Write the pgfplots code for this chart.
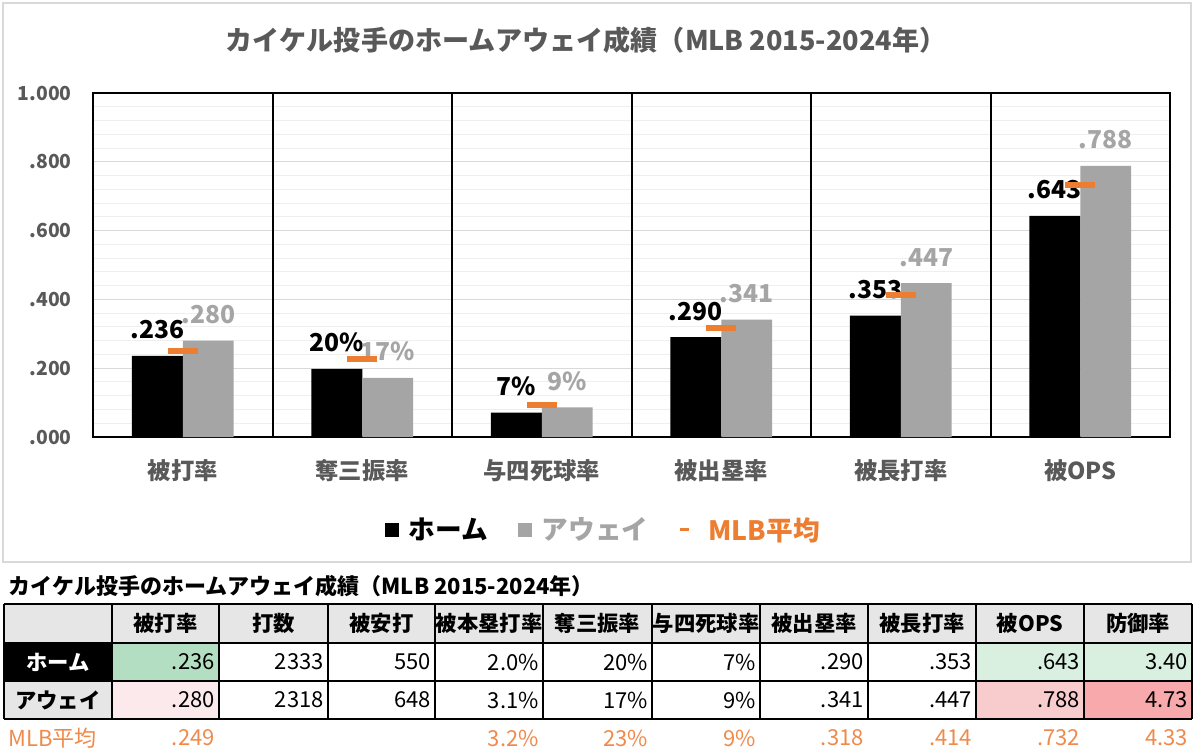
\documentclass[border=0pt]{standalone}
\usepackage{pgfplots}
\pgfplotsset{compat=1.18}
\usepackage{fontspec}
\setmainfont{Noto Sans CJK JP}
\definecolor{txtgrey}{HTML}{595959}
\definecolor{awaygrey}{HTML}{A5A5A5}
\definecolor{mlbor}{HTML}{ED7D31}
\definecolor{mlbtxt}{HTML}{F08A4B}
\definecolor{hdr}{HTML}{E7E6E6}
\definecolor{gmaj}{HTML}{D9D9D9}
\definecolor{gmin}{HTML}{EFEFEF}
\definecolor{g1}{HTML}{B3DEC1}
\definecolor{g2}{HTML}{D9EFDF}
\definecolor{p1}{HTML}{FCE9EC}
\definecolor{p2}{HTML}{F8CBCD}
\definecolor{p3}{HTML}{F8A9AB}
\newcommand{\fs}[1]{\fontsize{#1}{#1}\selectfont}
\begin{document}
\begin{tikzpicture}
\begin{scope}[x=0.75pt,y=-0.75pt]
\path[use as bounding box, fill=white] (0,0) rectangle (1195,749);
\draw[gmaj, line width=1.5pt] (3,3) rectangle (1191,562);
\node[text=txtgrey, font=\bfseries\fs{20.3pt}] at (586,40) {カイケル投手のホームアウェイ成績（MLB 2015-2024年）};
% table
\node[anchor=west, font=\bfseries\fs{16.5pt}, inner sep=0pt] at (8,586) {カイケル投手のホームアウェイ成績（MLB 2015-2024年）};
\fill[hdr] (4,604) rectangle (1192,643);
\fill[black] (4,643) rectangle (112,681);
\fill[hdr] (4,681) rectangle (112,719);
\fill[g1] (112,643) rectangle (219,681);
\fill[p1] (112,681) rectangle (219,719);
\fill[g2] (976,643) rectangle (1192,681);
\fill[p2] (976,681) rectangle (1084,719);
\fill[p3] (1084,681) rectangle (1192,719);
\foreach \y in {604,643,681,719} \draw[black, line width=1.1pt] (4,\y) -- (1192,\y);
\foreach \x in {4,112,219,328,435,543,652,760,868,976,1084,1192} \draw[black, line width=1.1pt] (\x,604) -- (\x,719);
\foreach \cx/\t in {165.5/被打率, 273.5/打数, 381.5/被安打, 489/被本塁打率, 597.5/奪三振率, 706/与四死球率, 814/被出塁率, 922/被長打率, 1030/被OPS, 1138/防御率}
  \node[font=\bfseries\fs{16pt}, inner sep=0pt] at (\cx,623.5) {\t};
\node[font=\bfseries\fs{16pt}, text=white, inner sep=0pt] at (58,662) {ホーム};
\node[font=\bfseries\fs{16pt}, inner sep=0pt] at (58,700) {アウェイ};
\node[anchor=west, font=\fs{16.5pt}, text=mlbtxt, inner sep=0pt] at (8,738) {MLB平均};
\foreach \x/\t in {219/.236, 328/2333, 435/550, 543/2.0\%, 652/20\%, 760/7\%, 868/.290, 976/.353, 1084/.643, 1192/3.40}
  \node[anchor=east, font=\fs{16.5pt}, inner sep=0pt] at (\x-4,662) {\t};
\foreach \x/\t in {219/.280, 328/2318, 435/648, 543/3.1\%, 652/17\%, 760/9\%, 868/.341, 976/.447, 1084/.788, 1192/4.73}
  \node[anchor=east, font=\fs{16.5pt}, inner sep=0pt] at (\x-4,700) {\t};
\foreach \x/\t in {219/.249, 543/3.2\%, 652/23\%, 760/9\%, 868/.318, 976/.414, 1084/.732, 1192/4.33}
  \node[anchor=east, font=\fs{16.5pt}, text=mlbtxt, inner sep=0pt] at (\x-4,738) {\t};
\end{scope}
\begin{axis}[
  at={(69.75pt,-327.75pt)}, anchor=south west,
  scale only axis, width=807.75pt, height=258pt,
  xmin=-0.5, xmax=5.5, ymin=0, ymax=1,
  axis line style={black, line width=1.5pt},
  xtick={0,1,2,3,4,5},
  xticklabels={被打率,奪三振率,与四死球率,被出塁率,被長打率,被OPS},
  xticklabel style={text=txtgrey, font=\bfseries\fs{17.5pt}, anchor=center, inner sep=0pt, yshift=-25.5pt},
  ytick={0,0.2,0.4,0.6,0.8,1},
  yticklabels={.000,.200,.400,.600,.800,1.000},
  yticklabel style={text=txtgrey, font=\bfseries\fs{14.5pt}, anchor=east, inner sep=0pt, xshift=-15.75pt},
  minor y tick num=4,
  ymajorgrids, yminorgrids,
  major grid style={gmaj, line width=0.75pt},
  minor grid style={gmin, line width=0.75pt},
  tick style={draw=none},
  extra x ticks={0.5,1.5,2.5,3.5,4.5},
  extra x tick labels={},
  extra x tick style={grid=major, major grid style={black, line width=1.5pt}},
  legend style={at={(0.474,-0.270)}, anchor=center, draw=none, fill=none, legend columns=-1,
    font=\bfseries\fs{20pt}, inner sep=0pt,
    /tikz/every even column/.append style={column sep=20.5pt}},
  clip=false,
]
\addplot[ybar, bar width=0.284, bar shift=-0.142, fill=black, draw=none,
  nodes near coords, point meta=explicit symbolic,
  every node near coord/.append style={text=black, font=\bfseries\fs{18.5pt}, anchor=base, inner sep=0pt, yshift=12.75pt, xshift=-19.1pt},
  legend image code/.code={\fill[black] (0pt,-5.25pt) rectangle (10.5pt,5.25pt); \path (16pt,0pt);}]
coordinates {(0,0.236)[.236] (1,0.198)[20\%] (2,0.071)[7\%] (3,0.290)[.290] (4,0.353)[.353] (5,0.643)[.643]};
\addlegendentry{ホーム}
\addplot[ybar, bar width=0.284, bar shift=0.142, fill=awaygrey, draw=none,
  nodes near coords, point meta=explicit symbolic,
  every node near coord/.append style={text=awaygrey, font=\bfseries\fs{18.5pt}, anchor=base, inner sep=0pt, yshift=12.75pt, xshift=19.1pt},
  legend image code/.code={\fill[awaygrey] (0pt,-5.25pt) rectangle (10.5pt,5.25pt); \path (16pt,0pt);}]
coordinates {(0,0.280)[.280] (1,0.172)[17\%] (2,0.086)[9\%] (3,0.341)[.341] (4,0.447)[.447] (5,0.788)[.788]};
\addlegendentry{\textcolor{awaygrey}{アウェイ}}
\addplot[only marks, mark=-, mark size=11.25pt, mark options={draw=mlbor, line width=4.5pt},
  legend image code/.code={\draw[mlbor, line width=2.25pt] (0pt,0pt) -- (7pt,0pt); \path (19.25pt,0pt);}]
coordinates {(0,0.249) (1,0.228) (2,0.094) (3,0.318) (4,0.414) (5,0.732)};
\addlegendentry{\textcolor{mlbor}{MLB平均}}
\end{axis}
\end{tikzpicture}
\end{document}
